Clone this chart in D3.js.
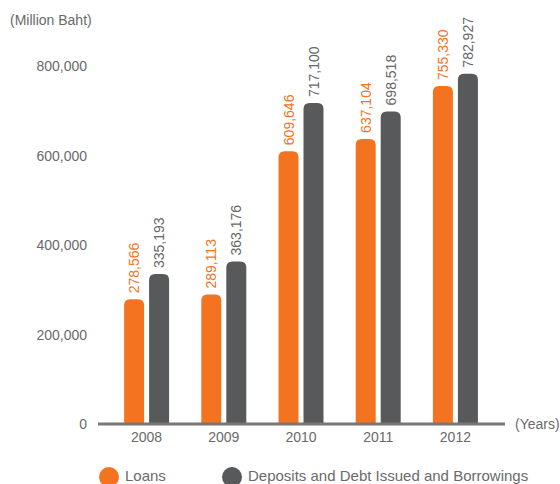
<!DOCTYPE html>
<html>
<head>
<meta charset="utf-8">
<script src="https://cdn.jsdelivr.net/npm/d3@7"></script>
<style>
  body { margin: 0; background: #fff; }
  text { font-family: "Liberation Sans", Arial, sans-serif; fill: #6a6a6a; }
</style>
</head>
<body>
<svg id="chart" width="560" height="484"></svg>
<script>
const years = ['2008', '2009', '2010', '2011', '2012']
const loans = [278566, 289113, 609646, 637104, 755330]
const deposits = [335193, 363176, 717100, 698518, 782927]
const yTicks = [0, 200000, 400000, 600000, 800000]
const seriesNames = ['Loans', 'Deposits and Debt Issued and Borrowings']

const colorSet = ['#f47321', '#58595b']
const labelColors = ['#f47321', '#666']

const svg = d3.select('#chart')

const x = d3.scaleBand()
    .domain(years)
    .range([108, 494])

const y = d3.scaleLinear()
    .domain([0, 800000])
    .range([424, 66])

const barW = 20, gap = 5, r = 6
const fmt = d3.format(',')

// rounded-top bar path
function barPath(x0, y0, w, h) {
    return `M${x0},${y0 + h} V${y0 + r} Q${x0},${y0} ${x0 + r},${y0} H${x0 + w - r} Q${x0 + w},${y0} ${x0 + w},${y0 + r} V${y0 + h} Z`
}

// y tick labels
svg.selectAll('.ytick')
    .data(yTicks)
    .enter()
    .append('text')
    .attr('class', 'ytick')
    .attr('x', 87)
    .attr('y', d => y(d) + 5)
    .attr('text-anchor', 'end')
    .style('font-size', '14px')
    .text(d => fmt(d))

svg.append('text')
    .attr('x', 10)
    .attr('y', 25)
    .style('font-size', '14px')
    .text('(Million Baht)')

const series = [loans, deposits]
series.forEach((vals, s) => {
    const off = s === 0 ? -gap / 2 - barW : gap / 2
    svg.selectAll('.bar' + s)
        .data(vals)
        .enter()
        .append('path')
        .attr('class', 'bar' + s)
        .attr('d', (d, i) => {
            const cx = x(years[i]) + x.bandwidth() / 2
            return barPath(cx + off, y(d), barW, y(0) - y(d))
        })
        .style('fill', colorSet[s])

    svg.selectAll('.lbl' + s)
        .data(vals)
        .enter()
        .append('text')
        .attr('class', 'lbl' + s)
        .attr('transform', (d, i) => {
            const cx = x(years[i]) + x.bandwidth() / 2 + off + barW / 2 + 5
            return `translate(${cx},${y(d) - 6}) rotate(-90)`
        })
        .style('font-size', '14px')
        .style('fill', labelColors[s])
        .text(d => fmt(d))
})

// x axis line
svg.append('line')
    .attr('x1', 98).attr('x2', 505)
    .attr('y1', 424).attr('y2', 424)
    .style('stroke', '#777')
    .style('stroke-width', 3)

svg.selectAll('.xtick')
    .data(years)
    .enter()
    .append('text')
    .attr('class', 'xtick')
    .attr('x', d => x(d) + x.bandwidth() / 2)
    .attr('y', 442)
    .attr('text-anchor', 'middle')
    .style('font-size', '14px')
    .text(d => d)

svg.append('text')
    .attr('x', 515)
    .attr('y', 429)
    .style('font-size', '14px')
    .text('(Years)')

// legend
const legendX = [109, 232]
seriesNames.forEach((name, i) => {
    svg.append('circle')
        .attr('cx', legendX[i])
        .attr('cy', 477)
        .attr('r', 10)
        .style('fill', colorSet[i])
    svg.append('text')
        .attr('x', legendX[i] + 16)
        .attr('y', 481)
        .style('font-size', '15px')
        .text(name)
})
</script>
</body>
</html>
